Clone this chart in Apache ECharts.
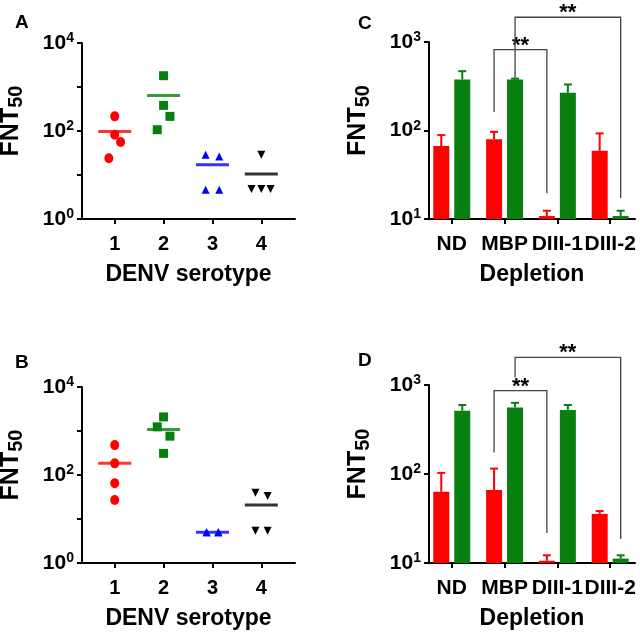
<!DOCTYPE html>
<html lang="en">
<head>
    <meta charset="UTF-8">
    <title>FNT50 depletion</title>
    <script src="https://cdn.jsdelivr.net/npm/echarts@6.0.0/dist/echarts.min.js"></script>
    <style>
        body { margin: 0; background: #fff; }
        #main { width: 640px; height: 633px; }
    </style>
</head>
<body>
    <div id="main"></div>
    <script>
        // panel A / B: points per serotype as [x (jittered category), FNT50]
        const aSero1 = [[1, 215], [1, 82], [1.12, 56], [0.88, 24]];
        const aSero2 = [[2, 1806], [2, 382], [2.13, 215], [1.87, 107]];
        const aSero3 = [[2.86, 28.9], [3.14, 26.5], [2.86, 4.6], [3.14, 4.6]];
        const aSero4 = [[4, 29], [3.8, 4.8], [4, 4.8], [4.19, 4.8]];
        const aMeans = [98, 644, 17, 10.5];

        const bSero1 = [[1, 478], [1, 184], [1, 65], [1, 27]];
        const bSero2 = [[2, 2090], [1.87, 1242], [2.13, 764], [2, 310]];
        const bSero3 = [[2.88, 5.0], [3.12, 5.0], [2.88, 5.0], [3.12, 5.0]];
        const bSero4 = [[3.88, 39.6], [4.13, 33.4], [3.88, 5.4], [4.13, 5.4]];
        const bMeans = [184, 1084, 5.0, 20.9];

        const serotypes = [1, 2, 3, 4];

        // panel C / D: bars (red, green) with upper error
        const depletion = ['ND', 'MBP', 'DIII-1', 'DIII-2'];
        const cRed = [66.7, 79.5, 10.8, 59];
        const cRedErr = [88.7, 96.6, 12.4, 92.7];
        const cGreen = [378, 378, 267, 10.8];
        const cGreenErr = [468, 385, 331, 12.4];

        const dRed = [63, 66, 10.6, 35.6];
        const dRedErr = [103, 115, 12.2, 38.3];
        const dGreen = [513, 560, 525, 11.2];
        const dGreenErr = [596, 630, 596, 12.2];

        // significance brackets: [left cat, left side, right cat, right side, top, left foot, right foot]
        const cBrackets = [[2, -1, 3, -1, 822, 162, 19.5], [2, 1, 4, 1, 1905, 385, 17.3]];
        const dBrackets = [[2, -1, 3, -1, 863, 174, 21.8], [2, 1, 4, 1, 2046, 1219, 18.6]];

        const RED = '#ff0000', GREEN = '#08800f', BLUE = '#0000ff', BLACK = '#000000';
        const FONT = 'Liberation Sans';
        const BAR_HALF = 10.5;

        const chart = echarts.init(document.getElementById('main'));

        function supLabel(v) {
            const e = Math.round(Math.log10(v));
            return '{b|10}{s|' + e + '}';
        }
        const supRich = {
            b: { fontFamily: FONT, fontWeight: 'bold', fontSize: 21, color: '#000' },
            s: { fontFamily: FONT, fontWeight: 'bold', fontSize: 14, color: '#000', verticalAlign: 'top', padding: [0, 0, 9, 0] }
        };
        const fntName = {
            name: '{f|FNT}{u|50}',
            nameLocation: 'middle',
            nameRotate: 90,
            nameTextStyle: {
                padding: [0, 0, 0, 20],
                rich: {
                    f: { fontFamily: FONT, fontWeight: 'bold', fontSize: 25, color: '#000' },
                    u: { fontFamily: FONT, fontWeight: 'bold', fontSize: 20, color: '#000', padding: [10, 0, 0, 0] }
                }
            }
        };
        const axisLine = { show: true, onZero: false, lineStyle: { color: '#000', width: 2 } };
        const tick = { show: true, length: 5, lineStyle: { color: '#000', width: 2 } };

        function scatterX(grid) {
            return {
                gridIndex: grid, type: 'value', min: 0.33, max: 4.69,
                axisLine: axisLine, splitLine: { show: false },
                axisTick: Object.assign({ customValues: serotypes }, tick),
                axisLabel: { customValues: serotypes, margin: 15, fontFamily: FONT, fontWeight: 'bold', fontSize: 20, color: '#000' },
                name: 'DENV serotype', nameLocation: 'middle', nameGap: 44,
                nameTextStyle: { fontFamily: FONT, fontWeight: 'bold', fontSize: 23, color: '#000' }
            };
        }
        function scatterY(grid) {
            return Object.assign({
                gridIndex: grid, type: 'log', logBase: 10, min: 1, max: 10000,
                axisLine: axisLine, splitLine: { show: false }, axisTick: tick,
                axisLabel: {
                    margin: 8,
                    formatter: v => (Math.round(Math.log10(v)) % 2 === 0 ? supLabel(v) : ''),
                    rich: supRich
                },
                nameGap: 56
            }, fntName);
        }
        function barX(grid) {
            return {
                gridIndex: grid, type: 'value', min: 0.569, max: 4.47,
                axisLine: axisLine, splitLine: { show: false },
                axisTick: Object.assign({ customValues: serotypes }, tick),
                axisLabel: {
                    customValues: serotypes, margin: 15, fontFamily: FONT, fontWeight: 'bold', fontSize: 21, color: '#000',
                    formatter: v => depletion[Math.round(v) - 1]
                },
                name: 'Depletion', nameLocation: 'middle', nameGap: 44,
                nameTextStyle: { fontFamily: FONT, fontWeight: 'bold', fontSize: 23, color: '#000' }
            };
        }
        function barY(grid) {
            return Object.assign({
                gridIndex: grid, type: 'log', logBase: 10, min: 10, max: 1000,
                axisLine: axisLine, splitLine: { show: false }, axisTick: tick,
                axisLabel: { margin: 8, formatter: supLabel, rich: supRich },
                nameGap: 56
            }, fntName);
        }

        function pts(grid, data, color, symbol, rotate) {
            return {
                type: 'scatter', xAxisIndex: grid, yAxisIndex: grid, data: data,
                symbol: symbol, symbolSize: symbol === 'circle' ? [9, 10] : (symbol === 'rect' ? 9 : 8),
                symbolRotate: rotate || 0, itemStyle: { color: color, opacity: 1 }, z: 3
            };
        }
        function means(grid, vals) {
            const colors = [RED, GREEN, BLUE, BLACK];
            return {
                type: 'scatter', xAxisIndex: grid, yAxisIndex: grid, symbol: 'rect', symbolSize: [33, 3], z: 4,
                data: vals.map((v, i) => ({ value: [serotypes[i], v], itemStyle: { color: colors[i] } }))
            };
        }
        function bars(grid, vals, color) {
            return {
                type: 'bar', xAxisIndex: grid, yAxisIndex: grid, barWidth: 16, barGap: '31%',
                itemStyle: { color: color }, data: vals.map((v, i) => [serotypes[i], v]), z: 3
            };
        }
        function errs(grid, vals, hi, side, color) {
            return {
                type: 'custom', xAxisIndex: grid, yAxisIndex: grid, z: 2,
                data: vals.map((v, i) => [serotypes[i], v, hi[i]]),
                renderItem: (params, api) => {
                    const b = api.coord([api.value(0), api.value(1)]);
                    const t = api.coord([api.value(0), api.value(2)]);
                    const x = b[0] + side * BAR_HALF;
                    const st = { stroke: color, lineWidth: 2 };
                    return {
                        type: 'group', children: [
                            { type: 'line', shape: { x1: x, y1: b[1], x2: x, y2: t[1] }, style: st },
                            { type: 'line', shape: { x1: x - 4, y1: t[1], x2: x + 4, y2: t[1] }, style: st }
                        ]
                    };
                }
            };
        }
        function brackets(grid, list) {
            return {
                type: 'custom', xAxisIndex: grid, yAxisIndex: grid, z: 1, clip: false,
                data: list,
                renderItem: (params, api) => {
                    const l = api.coord([api.value(0), api.value(4)]);
                    const r = api.coord([api.value(2), api.value(4)]);
                    const lx = l[0] + api.value(1) * BAR_HALF;
                    const rx = r[0] + api.value(3) * BAR_HALF;
                    const lb = api.coord([api.value(0), api.value(5)])[1];
                    const rb = api.coord([api.value(2), api.value(6)])[1];
                    return {
                        type: 'group', children: [
                            {
                                type: 'polyline',
                                shape: { points: [[lx, lb], [lx, l[1]], [rx, l[1]], [rx, rb]] },
                                style: { stroke: '#444', lineWidth: 1.3, fill: null }
                            },
                            {
                                type: 'text',
                                style: {
                                    x: (lx + rx) / 2, y: l[1] + 7, text: '**', align: 'center', verticalAlign: 'bottom',
                                    fontFamily: FONT, fontWeight: 'bold', fontSize: 22, fill: '#000'
                                }
                            }
                        ]
                    };
                }
            };
        }

        const titleStyle = { fontFamily: FONT, fontWeight: 'bold', fontSize: 19, color: '#000' };

        chart.setOption({
            animation: false,
            title: [
                { text: 'A', left: 10, top: 8, textStyle: titleStyle },
                { text: 'B', left: 10, top: 348, textStyle: titleStyle },
                { text: 'C', left: 353, top: 9, textStyle: titleStyle },
                { text: 'D', left: 353, top: 346, textStyle: titleStyle }
            ],
            grid: [
                { left: 82, top: 43, width: 213, height: 176, outerBoundsMode: 'none' },
                { left: 82, top: 387, width: 213, height: 176, outerBoundsMode: 'none' },
                { left: 429, top: 42, width: 206, height: 177, outerBoundsMode: 'none' },
                { left: 429, top: 385, width: 206, height: 178, outerBoundsMode: 'none' }
            ],
            xAxis: [scatterX(0), scatterX(1), barX(2), barX(3)],
            yAxis: [scatterY(0), scatterY(1), barY(2), barY(3)],
            series: [
                pts(0, aSero1, RED, 'circle'), pts(0, aSero2, GREEN, 'rect'),
                pts(0, aSero3, BLUE, 'triangle'), pts(0, aSero4, BLACK, 'triangle', 180),
                means(0, aMeans),
                pts(1, bSero1, RED, 'circle'), pts(1, bSero2, GREEN, 'rect'),
                pts(1, bSero3, BLUE, 'triangle'), pts(1, bSero4, BLACK, 'triangle', 180),
                means(1, bMeans),
                bars(2, cRed, RED), bars(2, cGreen, GREEN),
                errs(2, cRed, cRedErr, -1, RED), errs(2, cGreen, cGreenErr, 1, GREEN),
                brackets(2, cBrackets),
                bars(3, dRed, RED), bars(3, dGreen, GREEN),
                errs(3, dRed, dRedErr, -1, RED), errs(3, dGreen, dGreenErr, 1, GREEN),
                brackets(3, dBrackets)
            ]
        });
    </script>
</body>
</html>
